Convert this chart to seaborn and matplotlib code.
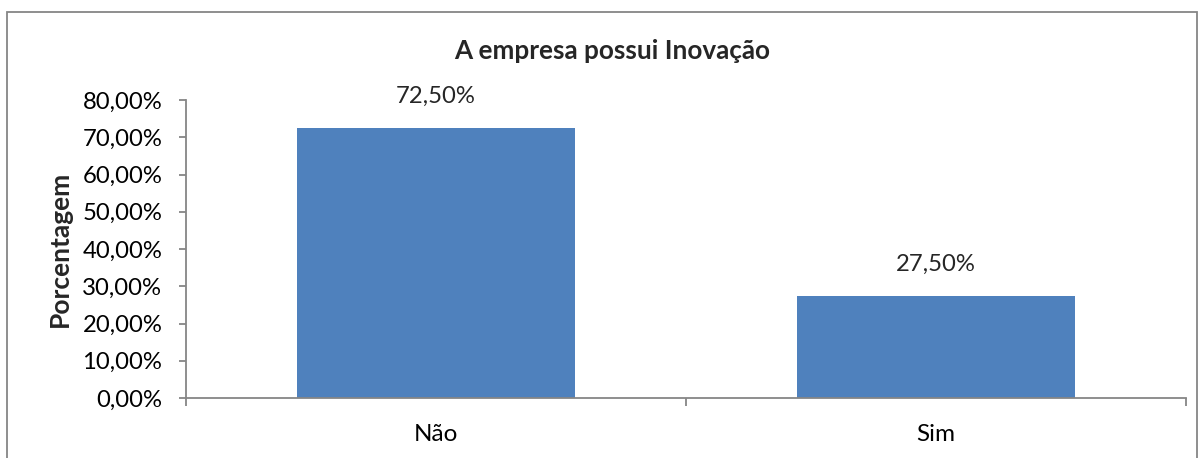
import matplotlib
matplotlib.use("Agg")
import matplotlib.pyplot as plt
import seaborn as sns
import pandas as pd
from matplotlib.patches import Rectangle
from matplotlib.ticker import FixedLocator, FuncFormatter

categories = ["Não", "Sim"]
values = [72.5, 27.5]
yticks = [0, 10, 20, 30, 40, 50, 60, 70, 80]

sns.set_style("white")
plt.rcParams['font.family'] = ['Lato', 'DejaVu Sans']

df = pd.DataFrame({"cat": categories, "val": values})

fig = plt.figure(figsize=(12.04, 4.58), dpi=100)
ax = fig.add_axes([186/1204, 1-398/458, 1000/1204, 298/458])

sns.barplot(data=df, x="cat", y="val", color="#4F81BD", saturation=1,
            width=0.555, ax=ax, edgecolor="none")

ax.set_xlim(-0.5, 1.5)
ax.set_ylim(0, 80)
ax.yaxis.set_major_locator(FixedLocator(yticks))
ax.yaxis.set_major_formatter(FuncFormatter(lambda v, p: f"{v:.2f}%".replace(".", ",")))

ax.xaxis.set_major_locator(FixedLocator([-0.5, 0.5, 1.5]))
ax.xaxis.set_minor_locator(FixedLocator([0, 1]))
ax.set_xticklabels([], minor=False)
ax.set_xticklabels(categories, minor=True)
ax.tick_params(axis='x', which='major', bottom=True, length=5.8, width=1.3, color="#868686",
               direction='out')
ax.tick_params(axis='x', which='minor', bottom=True, length=0, labelsize=17.5, pad=19,
               labelcolor="black")
ax.tick_params(axis='y', which='major', left=True, length=5, width=1.3, color="#868686",
               direction='out', labelsize=17.2, pad=12, labelcolor="black")

for s in ["top", "right"]:
    ax.spines[s].set_visible(False)
for s in ["left", "bottom"]:
    ax.spines[s].set_color("#868686")
    ax.spines[s].set_linewidth(1.3)

ax.set_xlabel("")
ax.set_ylabel("Porcentagem", fontsize=19, fontweight="bold")
ax.yaxis.set_label_coords(-114/1000, 0.5)

for i, v in enumerate(values):
    ax.annotate(f"{v:.2f}%".replace(".", ","), (i, v), xytext=(0, 15),
                textcoords="offset points", ha="center", va="bottom", fontsize=17.2)

fig.text(612/1204, 1-51/458, "A empresa possui Inovação", ha="center", va="center",
         fontsize=18.8, fontweight="bold")

fig.patches.append(Rectangle((7/1204, -0.1), 1190/1204, 1.1 - 12/458, transform=fig.transFigure,
                             fill=False, edgecolor="#868686", linewidth=1.3, clip_on=False))

fig.savefig("out.png", dpi=100)
